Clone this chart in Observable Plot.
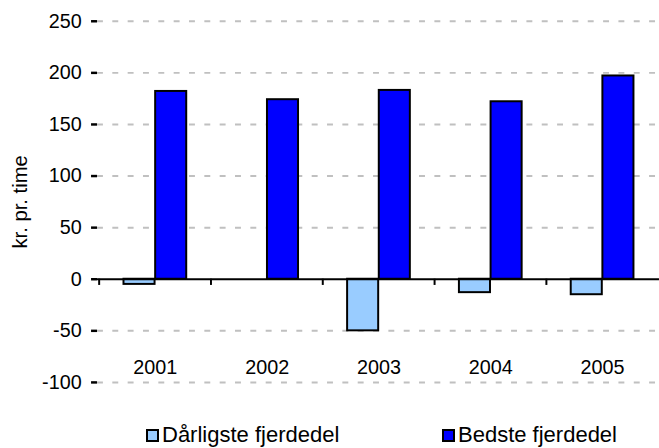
<!DOCTYPE html>
<html>
<head>
<meta charset="utf-8">
<script src="https://cdn.jsdelivr.net/npm/d3@7"></script>
<script src="https://cdn.jsdelivr.net/npm/@observablehq/plot@0.6"></script>
<style>
  html, body { margin: 0; padding: 0; background: #fff; overflow: hidden; }
  #wrap { position: relative; width: 659px; height: 448px; overflow: hidden; font-family: "Liberation Sans", Arial, sans-serif; }
  #chart svg { display: block; }
  .item { position: absolute; display: flex; align-items: center; font-size: 22px; color: #000; white-space: nowrap; line-height: 1; }
  .sw { width: 9px; height: 9px; border: 2px solid #000; margin-right: 3px; }
</style>
</head>
<body>
<div id="wrap">
  <div id="chart"></div>
  <div id="legend"></div>
</div>
<script>
const years = ["2001", "2002", "2003", "2004", "2005"];
const worst = [-5, 0, -50, -13, -15];
const best = [182, 174, 183, 172, 197];
const seriesNames = ["Dårligste fjerdedel", "Bedste fjerdedel"];
const seriesColors = ["#99CCFF", "#0000FF"];
const yTicks = [-100, -50, 0, 50, 100, 150, 200, 250];
const yLabel = "kr. pr. time";

const W = 666, H = 400, ML = 98, MR = 0, MT = 21, MB = 14;
const bw = (W - ML - MR) / years.length;
const barW = 32;
const outer = (bw - 2 * barW) / 2;

const worstRows = years.map((y, i) => ({year: y, value: worst[i]}));
const bestRows = years.map((y, i) => ({year: y, value: best[i]}));

const plot = Plot.plot({
  width: W,
  height: H,
  marginLeft: ML,
  marginRight: MR,
  marginTop: MT,
  marginBottom: MB,
  style: {fontFamily: "Liberation Sans, Arial, sans-serif", fontSize: "20px", color: "#000", background: "#fff"},
  x: {type: "band", domain: years, padding: 0, axis: null},
  y: {domain: [-100, 250], axis: null},
  marks: [
    Plot.ruleY(yTicks.filter(d => d !== 0), {stroke: "#c0c0c0", strokeWidth: 2, strokeDasharray: "6,9.5"}),
    Plot.barY(worstRows, {x: "year", y: "value", fill: seriesColors[0], stroke: "#000", strokeWidth: 2, insetLeft: outer, insetRight: outer + barW}),
    Plot.barY(bestRows, {x: "year", y: "value", fill: seriesColors[1], stroke: "#000", strokeWidth: 2, insetLeft: outer + barW, insetRight: outer}),
    Plot.ruleY([0], {stroke: "#000", strokeWidth: 2}),
    Plot.ruleX(years, {x: d => d, y1: 0, y2: -6, dx: -bw / 2, stroke: "#000", strokeWidth: 2}),
    Plot.axisY({ticks: yTicks, tickFormat: d => String(d), tickSize: 6, tickPadding: 10, fontSize: 20, strokeWidth: 2.5, line: true, label: null}),
    Plot.text([yLabel], {text: d => d, frameAnchor: "left", textAnchor: "middle", rotate: -90, dx: -78, fontSize: 20.5, fill: "#000"}),
    Plot.axisX({anchor: "bottom", tickSize: 0, tickPadding: 0, dy: -23, fontSize: 20, label: null})
  ]
});
document.getElementById("chart").appendChild(plot);

const legend = document.getElementById("legend");
const legendLeft = [146, 442];
seriesNames.forEach((name, i) => {
  const item = document.createElement("div");
  item.className = "item";
  item.style.left = legendLeft[i] + "px";
  item.style.top = "424px";
  const sw = document.createElement("span");
  sw.className = "sw";
  sw.style.background = seriesColors[i];
  const t = document.createElement("span");
  t.textContent = name;
  item.appendChild(sw);
  item.appendChild(t);
  legend.appendChild(item);
});
</script>
</body>
</html>
